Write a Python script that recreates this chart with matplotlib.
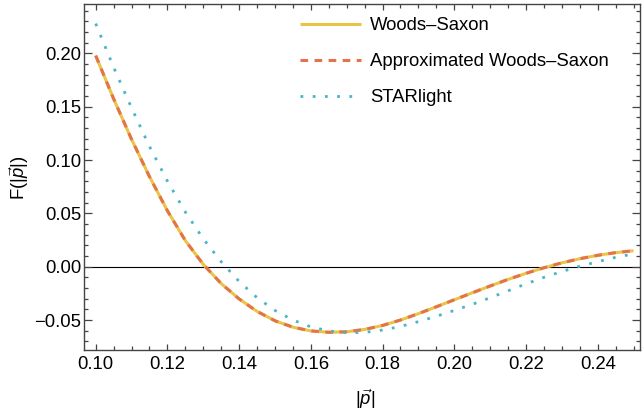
import numpy as np
import matplotlib
matplotlib.use("Agg")
import matplotlib.pyplot as plt
from matplotlib.ticker import MultipleLocator, FuncFormatter

plt.rcParams["font.family"] = ["Liberation Sans", "DejaVu Sans"]
plt.rcParams["mathtext.fontset"] = "custom"
plt.rcParams["mathtext.rm"] = "Liberation Sans"
plt.rcParams["mathtext.it"] = "Liberation Sans:italic"

# momentum grid |p| and form factors
p_vals = [0.100, 0.105, 0.110, 0.115, 0.120, 0.125, 0.130, 0.135, 0.140, 0.145,
          0.150, 0.155, 0.160, 0.165, 0.170, 0.175, 0.180, 0.185, 0.190, 0.195,
          0.200, 0.205, 0.210, 0.215, 0.220, 0.225, 0.230, 0.235, 0.240, 0.245,
          0.250]

woods_saxon = [0.1980, 0.1575, 0.1195, 0.0845, 0.0525, 0.0245, 0.0022, -0.0158,
               -0.0302, -0.0419, -0.0507, -0.0567, -0.0602, -0.0615, -0.0610,
               -0.0588, -0.0551, -0.0500, -0.0440, -0.0376, -0.0310, -0.0245,
               -0.0181, -0.0119, -0.0062, -0.0010, 0.0036, 0.0075, 0.0107,
               0.0132, 0.0150]

# the approximation sits on top of the full Woods-Saxon curve
approx_ws = [0.1980, 0.1575, 0.1195, 0.0845, 0.0525, 0.0245, 0.0022, -0.0158,
             -0.0302, -0.0419, -0.0507, -0.0567, -0.0602, -0.0615, -0.0610,
             -0.0588, -0.0551, -0.0500, -0.0440, -0.0376, -0.0310, -0.0245,
             -0.0181, -0.0119, -0.0062, -0.0010, 0.0036, 0.0075, 0.0107,
             0.0132, 0.0150]

starlight = [0.2280, 0.1870, 0.1490, 0.1128, 0.0803, 0.0513, 0.0262, 0.0047,
             -0.0138, -0.0290, -0.0410, -0.0500, -0.0564, -0.0602, -0.0619,
             -0.0616, -0.0594, -0.0560, -0.0515, -0.0465, -0.0410, -0.0353,
             -0.0291, -0.0226, -0.0161, -0.0100, -0.0045, 0.0004, 0.0047,
             0.0088, 0.0120]

C_WS = "#E8C447"
C_APPROX = "#E5734A"
C_STAR = "#4AB5C4"
FRAME = "#444444"
FS = 13.3


def fmt_tick(v, pos):
    return f"{v:.2f}".replace("-", "\u2212")


fig = plt.figure(figsize=(6.42, 4.19), dpi=100)
ax = fig.add_axes([84 / 642, 69 / 419, 556 / 642, 345.7 / 419])

ax.axhline(0, color="black", lw=0.8, zorder=1)

ax.plot(p_vals, woods_saxon, color=C_WS, lw=2.2, solid_capstyle="butt",
        label="Woods\u2013Saxon", zorder=2)
ax.plot(p_vals, approx_ws, color=C_APPROX, lw=2.2, dashes=(2.5, 2.1),
        dash_capstyle="butt", label="Approximated Woods\u2013Saxon", zorder=3)
ax.plot(p_vals, starlight, color=C_STAR, lw=2.0, dashes=(1.0, 3.4),
        dash_capstyle="butt", label="STARlight", zorder=4)

ax.set_xlim(0.09674, 0.2518)
ax.set_ylim(-0.0781, 0.2461)

ax.xaxis.set_major_locator(MultipleLocator(0.02))
ax.xaxis.set_minor_locator(MultipleLocator(0.005))
ax.yaxis.set_major_locator(MultipleLocator(0.05))
ax.yaxis.set_minor_locator(MultipleLocator(0.01))
ax.xaxis.set_major_formatter(FuncFormatter(fmt_tick))
ax.yaxis.set_major_formatter(FuncFormatter(fmt_tick))

for s in ax.spines.values():
    s.set_color(FRAME)
    s.set_linewidth(1.0)

ax.tick_params(which="both", direction="in", top=True, right=True,
               color=FRAME, width=0.9, labelsize=FS, labelcolor="black")
ax.tick_params(axis="x", which="major", length=4.5, pad=4)
ax.tick_params(axis="x", which="minor", length=2.6)
ax.tick_params(axis="y", which="major", length=5.5, pad=2)
ax.tick_params(axis="y", which="minor", length=3.0)

fig.text(365 / 642, 1 - 399 / 419, r"$|\vec{p}|$", fontsize=FS,
         ha="center", va="center")
fig.text(19 / 642, 1 - 178 / 419, r"F$(|\vec{p}|)$", fontsize=FS,
         ha="center", va="center", rotation=90)

ax.legend(loc="upper left", bbox_to_anchor=(300 / 642, 1 - 17 / 419),
          bbox_transform=fig.transFigure, frameon=False, fontsize=FS,
          handlelength=3.3, handletextpad=0.5, labelspacing=1.03,
          borderpad=0, borderaxespad=0)

fig.savefig("out.png", dpi=100)
